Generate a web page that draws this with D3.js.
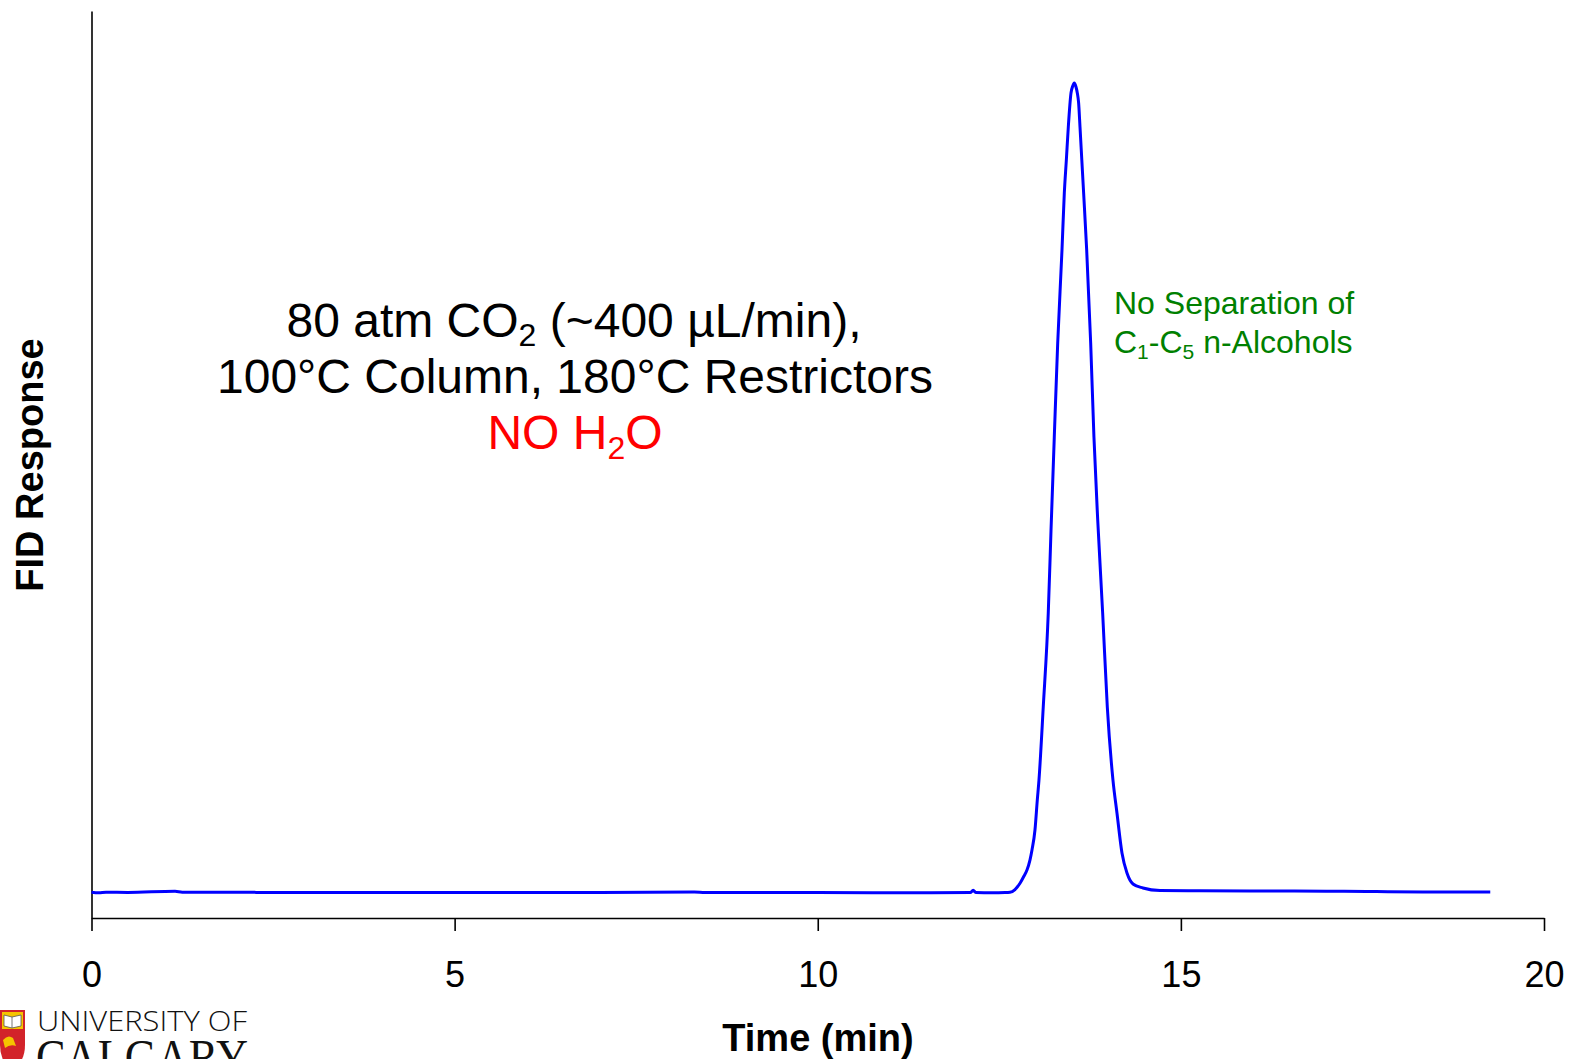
<!DOCTYPE html>
<html>
<head>
<meta charset="utf-8">
<script src="https://cdn.jsdelivr.net/npm/d3@7/dist/d3.min.js"></script>
<style>
  html, body { margin: 0; padding: 0; background: #fff; overflow: hidden; }
  svg { display: block; font-family: "Liberation Sans", Arial, Helvetica, sans-serif; }
</style>
</head>
<body>
<svg id="chart" width="1569" height="1059"></svg>
<script>
// Chromatogram: retention time (min) and FID signal (arbitrary units)
const retentionTime = [
  0.00, 0.10, 0.20, 0.50, 1.15, 1.25, 3.00, 5.00, 7.00, 8.30, 8.45, 10.00, 11.50,
  12.10, 12.14, 12.18, 12.40, 12.58, 12.647, 12.716, 12.785, 12.840, 12.881, 12.922,
  12.950, 12.991, 13.023, 13.046, 13.105, 13.174, 13.212, 13.257, 13.304, 13.363,
  13.395, 13.423, 13.450, 13.487, 13.511, 13.532, 13.556, 13.574, 13.592, 13.611,
  13.636, 13.661, 13.703, 13.758, 13.803, 13.855, 13.923, 13.987, 14.065, 14.120,
  14.189, 14.258, 14.341, 14.478, 14.713, 15.26, 16.00, 17.00, 17.55, 17.85, 18.50, 19.26
];
const fidSignal = [
  2.85, 2.78, 2.85, 2.82, 2.95, 2.85, 2.82, 2.82, 2.80, 2.86, 2.80, 2.80, 2.78,
  2.80, 3.05, 2.80, 2.78, 2.80, 2.83, 3.14, 3.83, 4.63, 5.29, 6.39,
  7.50, 9.70, 13.01, 15.21, 23.26, 33.63, 42.78, 53.03, 63.40, 73.65,
  79.93, 83.57, 87.21, 90.96, 91.73, 92.06, 91.62, 90.96, 89.86, 87.21,
  83.57, 79.93, 73.65, 63.40, 53.03, 43.88, 33.63, 23.26, 15.21, 11.58,
  7.17, 4.96, 3.75, 3.31, 3.03, 3.00, 2.98, 2.95, 2.92, 2.90, 2.87, 2.87
];
const timeTicks = [0, 5, 10, 15, 20];
const timeDomain = [0, 20];
const signalDomain = [0, 100];

const svg = d3.select("#chart");
const font = '"Liberation Sans", Arial, Helvetica, sans-serif';

const x = d3.scaleLinear().domain(timeDomain).range([91.5, 1544]);
const y = d3.scaleLinear().domain(signalDomain).range([918, 11]);

// Axes
const xAxis = svg.append("g")
  .attr("transform", `translate(0,${y(0)})`)
  .call(d3.axisBottom(x).tickValues(timeTicks).tickFormat(d3.format("d"))
    .tickSize(13).tickSizeOuter(0).tickPadding(30));
xAxis.select(".domain").attr("stroke", "#000").attr("stroke-width", 1.6);
xAxis.selectAll(".tick line").attr("stroke", "#000").attr("stroke-width", 1.6);
xAxis.selectAll(".tick text").attr("fill", "#000")
  .style("font-family", font).style("font-size", "36px");

const yAxis = svg.append("g")
  .attr("transform", `translate(${x(0)},0)`)
  .call(d3.axisLeft(y).tickValues([]).tickSizeOuter(0));
yAxis.select(".domain").attr("stroke", "#000").attr("stroke-width", 1.6);

// Axis titles
svg.append("text")
  .attr("x", 818).attr("y", 1051)
  .attr("text-anchor", "middle")
  .style("font-family", font).style("font-size", "38px").style("font-weight", "bold")
  .text("Time (min)");

svg.append("text")
  .attr("transform", "translate(43,465) rotate(-90)")
  .attr("text-anchor", "middle")
  .style("font-family", font).style("font-size", "38px").style("font-weight", "bold")
  .text("FID Response");

// Trace
const line = d3.line()
  .x((d, i) => x(retentionTime[i]))
  .y(d => y(d))
  .curve(d3.curveMonotoneX);

svg.append("path")
  .datum(fidSignal)
  .attr("d", line)
  .attr("fill", "none")
  .attr("stroke", "#0000ff")
  .attr("stroke-width", 3)
  .attr("stroke-linejoin", "round");

// Run conditions
const cond = svg.append("g")
  .attr("text-anchor", "middle")
  .style("font-family", font).style("font-size", "48px");

const l1 = cond.append("text").attr("x", 574).attr("y", 337).attr("fill", "#000");
l1.append("tspan").text("80 atm CO");
l1.append("tspan").attr("dy", 9).style("font-size", "32px").text("2");
l1.append("tspan").attr("dy", -9).text(" (~400 µL/min),");

cond.append("text").attr("x", 575).attr("y", 393).attr("fill", "#000")
  .text("100°C Column, 180°C Restrictors");

const l3 = cond.append("text").attr("x", 575).attr("y", 449).attr("fill", "#ff0000");
l3.append("tspan").text("NO H");
l3.append("tspan").attr("dy", 10).style("font-size", "32px").text("2");
l3.append("tspan").attr("dy", -10).text("O");

// Peak note
const note = svg.append("g")
  .style("font-family", font).style("font-size", "32px").attr("fill", "#008000");
note.append("text").attr("x", 1114).attr("y", 314).text("No Separation of");
const n2 = note.append("text").attr("x", 1114).attr("y", 353);
n2.append("tspan").text("C");
n2.append("tspan").attr("dy", 6).style("font-size", "21px").text("1");
n2.append("tspan").attr("dy", -6).text("-C");
n2.append("tspan").attr("dy", 6).style("font-size", "21px").text("5");
n2.append("tspan").attr("dy", -6).text(" n-Alcohols");

// University logo (bottom left)
const logo = svg.append("g");
logo.append("path")
  .attr("d", "M0,1010 L25,1010 L25,1045 Q25,1062 12,1070 Q0,1062 0,1045 Z")
  .attr("fill", "#d2232a");
logo.append("rect").attr("x", 2).attr("y", 1012).attr("width", 21).attr("height", 17)
  .attr("fill", "#f5c400");
logo.append("path")
  .attr("d", "M4,1015 L12,1017 L21,1015 L21,1026 L12,1028 L4,1026 Z")
  .attr("fill", "#fff").attr("stroke", "#555").attr("stroke-width", 0.8);
logo.append("line").attr("x1", 12).attr("y1", 1017).attr("x2", 12).attr("y2", 1028)
  .attr("stroke", "#555").attr("stroke-width", 0.8);
logo.append("path")
  .attr("d", "M3,1040 Q8,1034 13,1038 L16,1046 Q10,1044 5,1048 Z")
  .attr("fill", "#f5c400");
logo.append("text").attr("x", 37).attr("y", 1031)
  .attr("textLength", 210).attr("lengthAdjust", "spacingAndGlyphs")
  .style("font-family", '"Open Sans", "Liberation Sans", sans-serif')
  .style("font-weight", 300).style("font-size", "27px").attr("fill", "#111")
  .text("UNIVERSITY OF");
logo.append("text").attr("x", 36).attr("y", 1074)
  .attr("textLength", 212).attr("lengthAdjust", "spacingAndGlyphs")
  .style("font-family", '"Liberation Serif", "DejaVu Serif", serif')
  .style("font-size", "50px").attr("fill", "#111")
  .text("CALGARY");
</script>
</body>
</html>
